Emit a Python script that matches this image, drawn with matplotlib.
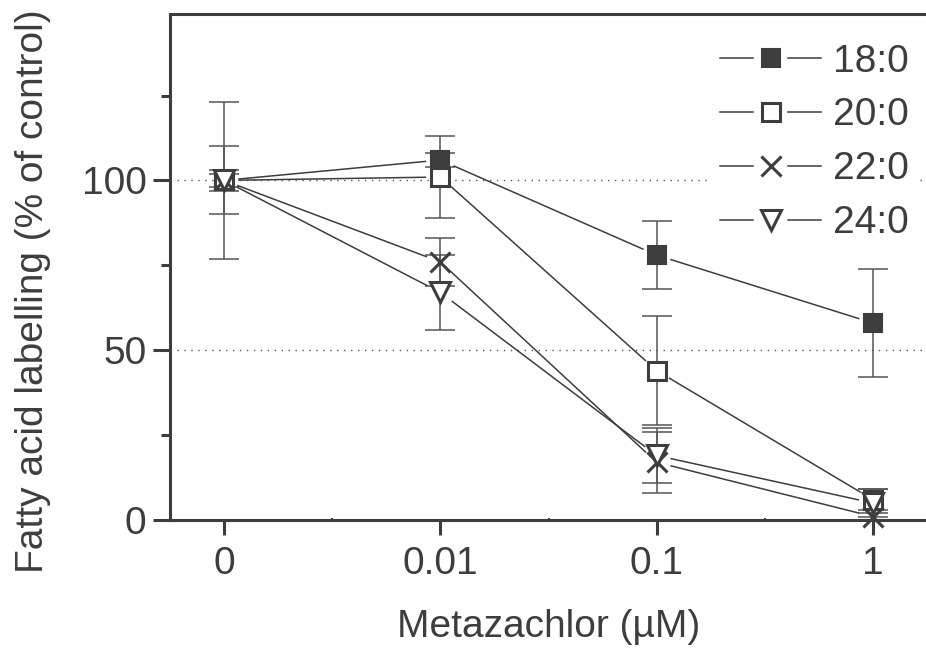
import numpy as np
import matplotlib
matplotlib.use("Agg")
import matplotlib.pyplot as plt
from matplotlib.lines import Line2D
from matplotlib.legend_handler import HandlerLine2D

# ---- data ----------------------------------------------------------
doses = ["0", "0.01", "0.1", "1"]

c18 = [100, 106, 78, 58]
e18 = [10, 2, 10, 16]
c20 = [100, 101, 44, 6]
e20 = [23, 12, 16, 3]
c22 = [100, 76, 17, 1]
e22 = [3, 7, 9, 1]
c24 = [100, 67, 19, 5]
e24 = [2, 11, 8, 4]

names = ["18:0", "20:0", "22:0", "24:0"]

INK = "#3d3d3d"
plt.rcParams["font.family"] = ["Liberation Sans", "DejaVu Sans"]
plt.rcParams["text.color"] = INK
plt.rcParams["axes.labelcolor"] = INK
plt.rcParams["xtick.color"] = INK
plt.rcParams["ytick.color"] = INK

FS = 28

fig = plt.figure(figsize=(9.26, 6.51), dpi=100)
ax = fig.add_axes([170 / 926, 131 / 651, 757 / 926, 506 / 651])
ax.set_xlim(-0.25, 3.25)
ax.set_ylim(0, 149)

x = np.arange(len(doses))

styles = [
    dict(marker="s", ms=13, mfc=INK, mec=INK, mew=1.5),
    dict(marker="s", ms=13, mfc="white", mec=INK, mew=2.2),
    dict(marker="x", ms=15, mfc=INK, mec=INK, mew=2.2),
    dict(marker="v", ms=15, mfc="white", mec=INK, mew=2.2),
]
series = [(c18, e18), (c20, e20), (c22, e22), (c24, e24)]


def gapped(xs, ys, gap_px=15):
    # shorten each segment so it stops short of the markers
    pts = ax.transData.transform(np.column_stack([xs, ys]))
    inv = ax.transData.inverted()
    segs = []
    for p, q in zip(pts[:-1], pts[1:]):
        d = q - p
        u = d / np.hypot(*d)
        a = inv.transform(p + u * gap_px)
        b = inv.transform(q - u * gap_px)
        segs.append((a, b))
    return segs


# reference lines
for yv in (50, 100):
    ax.axhline(yv, color="#555555", lw=1.0, ls=(0, (1, 4)), zorder=1)

handles = []
for (vals, errs), st, name in zip(series, styles, names):
    ax.errorbar(x, vals, yerr=errs, fmt="none", ecolor="#555555",
                elinewidth=1.1, capsize=10.5, capthick=1.1, zorder=2,
                clip_on=False)
    for a, b in gapped(x, vals):
        ax.plot([a[0], b[0]], [a[1], b[1]], color=INK, lw=1.1, zorder=3)
    ax.plot(x, vals, ls="none", zorder=4, clip_on=False, **st)
    handles.append(Line2D([], [], color=INK, lw=1.1, label=name, **st))


class GapHandler(HandlerLine2D):
    # legend entry: line, marker, line with small gaps on both sides
    def create_artists(self, legend, orig_handle, xdescent, ydescent,
                       width, height, fontsize, trans):
        y = (height - ydescent) / 2
        x0, x1 = -xdescent, -xdescent + width
        xm = (x0 + x1) / 2
        g = 0.17 * width
        kw = dict(color=orig_handle.get_color(), lw=orig_handle.get_linewidth())
        left = Line2D([x0, xm - g], [y, y], **kw)
        right = Line2D([xm + g, x1], [y, y], **kw)
        mk = Line2D([xm], [y], ls="none", marker=orig_handle.get_marker(),
                    ms=orig_handle.get_markersize(),
                    mfc=orig_handle.get_markerfacecolor(),
                    mec=orig_handle.get_markeredgecolor(),
                    mew=orig_handle.get_markeredgewidth())
        for art in (left, right, mk):
            art.set_transform(trans)
        return [left, right, mk]


leg = ax.legend(handles=handles, loc="upper right", bbox_to_anchor=(0.986, 0.957),
                fontsize=FS, frameon=True, handlelength=2.6, handletextpad=0.3,
                labelspacing=0.46, borderpad=0.2, borderaxespad=0,
                handler_map={Line2D: GapHandler()})
leg.get_frame().set_facecolor("white")
leg.get_frame().set_edgecolor("none")
leg.get_frame().set_alpha(1)
leg.set_zorder(5)

# axes styling
ax.set_xticks(x)
ax.set_xticklabels(doses)
ax.set_xticks([0.5, 1.5, 2.5], minor=True)
ax.set_yticks([0, 50, 100])
ax.set_yticks([25, 75, 125], minor=True)
ax.tick_params(axis="both", which="major", labelsize=FS, width=2.2, color=INK)
ax.tick_params(axis="y", which="major", length=12, pad=5)
ax.tick_params(axis="x", which="major", length=11, pad=8)
ax.tick_params(axis="y", which="minor", length=6.5, width=2.2, color=INK)
ax.tick_params(axis="x", which="minor", length=3, width=1.5, color=INK,
               direction="inout")

for side in ("left", "bottom", "top"):
    ax.spines[side].set_linewidth(2.2)
    ax.spines[side].set_color(INK)
ax.spines["right"].set_visible(False)

ax.set_xlabel("Metazachlor (\u00b5M)", fontsize=FS, labelpad=19)
ax.set_ylabel("Fatty acid labelling (% of control)", fontsize=FS)
ax.yaxis.set_label_coords(-0.157, 0.4526)

fig.savefig("out.png", dpi=100)
